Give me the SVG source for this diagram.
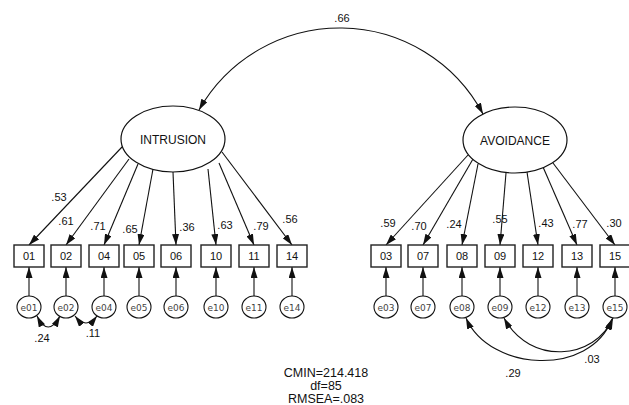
<svg xmlns="http://www.w3.org/2000/svg" width="629" height="405" viewBox="0 0 629 405">
<style>
.bx{fill:#fff;stroke:#222;stroke-width:1.4}
.el{fill:#fff;stroke:#111;stroke-width:1.2}
.er{fill:#fff;stroke:#111;stroke-width:1.1}
.ln{fill:none;stroke:#111;stroke-width:1.1}
.t{font-family:"Liberation Sans",Arial,sans-serif;fill:#111}
.bt{font-size:11px;text-anchor:middle}
.lt{font-size:12px;text-anchor:middle}
.et{font-family:"DejaVu Sans",sans-serif;font-size:9px;fill:#444;text-anchor:middle}
.nm{font-size:11px;text-anchor:middle}
.st{font-size:12.5px;text-anchor:middle}
</style>
<defs>
<marker id="ah" markerUnits="userSpaceOnUse" markerWidth="11" markerHeight="7" refX="11" refY="3.5" orient="auto-start-reverse">
<path d="M0,0 L11,3.5 L0,7 z" fill="#111"/>
</marker>
</defs>
<rect width="629" height="405" fill="#fff"/>

<g id="connectors">
<path class="ln" d="M199,110 A162,162 0 0 1 483,114" marker-start="url(#ah)" marker-end="url(#ah)"/>
<g marker-end="url(#ah)">
<line class="ln" x1="122" y1="147" x2="29" y2="245"/>
<line class="ln" x1="129" y1="159" x2="66" y2="245"/>
<line class="ln" x1="138" y1="164" x2="104" y2="245"/>
<line class="ln" x1="153" y1="169" x2="139" y2="245"/>
<line class="ln" x1="173" y1="172" x2="176" y2="245"/>
<line class="ln" x1="208" y1="169" x2="216" y2="245"/>
<line class="ln" x1="219" y1="163" x2="254" y2="245"/>
<line class="ln" x1="222" y1="152" x2="292" y2="245"/>
<line class="ln" x1="468" y1="155" x2="386" y2="245"/>
<line class="ln" x1="473" y1="159" x2="423" y2="245"/>
<line class="ln" x1="478" y1="164" x2="462" y2="245"/>
<line class="ln" x1="506" y1="173" x2="500" y2="245"/>
<line class="ln" x1="527" y1="172" x2="538" y2="245"/>
<line class="ln" x1="543" y1="167" x2="577" y2="245"/>
<line class="ln" x1="553" y1="163" x2="615" y2="245"/>
<line class="ln" x1="29" y1="296" x2="29" y2="267"/>
<line class="ln" x1="66" y1="296" x2="66" y2="267"/>
<line class="ln" x1="104" y1="296" x2="104" y2="267"/>
<line class="ln" x1="139" y1="296" x2="139" y2="267"/>
<line class="ln" x1="176" y1="296" x2="176" y2="267"/>
<line class="ln" x1="216" y1="296" x2="216" y2="267"/>
<line class="ln" x1="254" y1="296" x2="254" y2="267"/>
<line class="ln" x1="292" y1="296" x2="292" y2="267"/>
<line class="ln" x1="386" y1="296" x2="386" y2="267"/>
<line class="ln" x1="423" y1="296" x2="423" y2="267"/>
<line class="ln" x1="462" y1="296" x2="462" y2="267"/>
<line class="ln" x1="500" y1="296" x2="500" y2="267"/>
<line class="ln" x1="538" y1="296" x2="538" y2="267"/>
<line class="ln" x1="577" y1="296" x2="577" y2="267"/>
<line class="ln" x1="615" y1="296" x2="615" y2="267"/>
</g>
<g marker-start="url(#ah)" marker-end="url(#ah)">
<path class="ln" d="M37,316 Q48,338 60,316"/>
<path class="ln" d="M75,316 Q86,330 97,316"/>
<path class="ln" d="M466,318 C490,372 590,377 612,319"/>
<path class="ln" d="M504,318 C530,366 595,360 613,318"/>
</g>
</g>

<g id="INTRUSION"><ellipse class="el" cx="173" cy="139" rx="52" ry="33"/><text class="t lt" x="173" y="143.5">INTRUSION</text></g>
<g id="AVOIDANCE"><ellipse class="el" cx="515" cy="140" rx="52" ry="33"/><text class="t lt" x="515" y="144.5">AVOIDANCE</text></g>

<g id="v01"><rect class="bx" x="14" y="245" width="30" height="22"/><text class="t bt" x="29" y="260">01</text></g>
<g id="v02"><rect class="bx" x="51" y="245" width="30" height="22"/><text class="t bt" x="66" y="260">02</text></g>
<g id="v04"><rect class="bx" x="89" y="245" width="30" height="22"/><text class="t bt" x="104" y="260">04</text></g>
<g id="v05"><rect class="bx" x="124" y="245" width="30" height="22"/><text class="t bt" x="139" y="260">05</text></g>
<g id="v06"><rect class="bx" x="161" y="245" width="30" height="22"/><text class="t bt" x="176" y="260">06</text></g>
<g id="v10"><rect class="bx" x="201" y="245" width="30" height="22"/><text class="t bt" x="216" y="260">10</text></g>
<g id="v11"><rect class="bx" x="239" y="245" width="30" height="22"/><text class="t bt" x="254" y="260">11</text></g>
<g id="v14"><rect class="bx" x="277" y="245" width="30" height="22"/><text class="t bt" x="292" y="260">14</text></g>
<g id="v03"><rect class="bx" x="371" y="245" width="30" height="22"/><text class="t bt" x="386" y="260">03</text></g>
<g id="v07"><rect class="bx" x="408" y="245" width="30" height="22"/><text class="t bt" x="423" y="260">07</text></g>
<g id="v08"><rect class="bx" x="447" y="245" width="30" height="22"/><text class="t bt" x="462" y="260">08</text></g>
<g id="v09"><rect class="bx" x="485" y="245" width="30" height="22"/><text class="t bt" x="500" y="260">09</text></g>
<g id="v12"><rect class="bx" x="523" y="245" width="30" height="22"/><text class="t bt" x="538" y="260">12</text></g>
<g id="v13"><rect class="bx" x="562" y="245" width="30" height="22"/><text class="t bt" x="577" y="260">13</text></g>
<g id="v15"><rect class="bx" x="600" y="245" width="30" height="22"/><text class="t bt" x="615" y="260">15</text></g>

<g id="e01"><ellipse class="er" cx="29" cy="307" rx="12" ry="11"/><text class="et" x="29" y="310.5">e01</text></g>
<g id="e02"><ellipse class="er" cx="66" cy="307" rx="12" ry="11"/><text class="et" x="66" y="310.5">e02</text></g>
<g id="e04"><ellipse class="er" cx="104" cy="307" rx="12" ry="11"/><text class="et" x="104" y="310.5">e04</text></g>
<g id="e05"><ellipse class="er" cx="139" cy="307" rx="12" ry="11"/><text class="et" x="139" y="310.5">e05</text></g>
<g id="e06"><ellipse class="er" cx="176" cy="307" rx="12" ry="11"/><text class="et" x="176" y="310.5">e06</text></g>
<g id="e10"><ellipse class="er" cx="216" cy="307" rx="12" ry="11"/><text class="et" x="216" y="310.5">e10</text></g>
<g id="e11"><ellipse class="er" cx="254" cy="307" rx="12" ry="11"/><text class="et" x="254" y="310.5">e11</text></g>
<g id="e14"><ellipse class="er" cx="292" cy="307" rx="12" ry="11"/><text class="et" x="292" y="310.5">e14</text></g>
<g id="e03"><ellipse class="er" cx="386" cy="307" rx="12" ry="11"/><text class="et" x="386" y="310.5">e03</text></g>
<g id="e07"><ellipse class="er" cx="423" cy="307" rx="12" ry="11"/><text class="et" x="423" y="310.5">e07</text></g>
<g id="e08"><ellipse class="er" cx="462" cy="307" rx="12" ry="11"/><text class="et" x="462" y="310.5">e08</text></g>
<g id="e09"><ellipse class="er" cx="500" cy="307" rx="12" ry="11"/><text class="et" x="500" y="310.5">e09</text></g>
<g id="e12"><ellipse class="er" cx="538" cy="307" rx="12" ry="11"/><text class="et" x="538" y="310.5">e12</text></g>
<g id="e13"><ellipse class="er" cx="577" cy="307" rx="12" ry="11"/><text class="et" x="577" y="310.5">e13</text></g>
<g id="e15"><ellipse class="er" cx="615" cy="307" rx="12" ry="11"/><text class="et" x="615" y="310.5">e15</text></g>

<g id="labels">
<text class="t nm" x="342" y="22">.66</text>
<text class="t nm" x="59" y="201">.53</text>
<text class="t nm" x="66" y="225">.61</text>
<text class="t nm" x="98" y="230">.71</text>
<text class="t nm" x="130" y="233">.65</text>
<text class="t nm" x="187" y="231">.36</text>
<text class="t nm" x="225" y="229">.63</text>
<text class="t nm" x="261" y="230">.79</text>
<text class="t nm" x="290" y="223">.56</text>
<text class="t nm" x="388" y="227">.59</text>
<text class="t nm" x="419" y="230">.70</text>
<text class="t nm" x="454" y="228">.24</text>
<text class="t nm" x="500" y="223">.55</text>
<text class="t nm" x="546" y="227">.43</text>
<text class="t nm" x="580" y="228">.77</text>
<text class="t nm" x="614" y="227">.30</text>
<text class="t nm" x="42" y="342">.24</text>
<text class="t nm" x="93" y="337">.11</text>
<text class="t nm" x="592" y="363">.03</text>
<text class="t nm" x="513" y="377">.29</text>
</g>

<g id="fit">
<text class="t st" x="326" y="377">CMIN=214.418</text>
<text class="t st" x="326" y="390">df=85</text>
<text class="t st" x="326" y="403">RMSEA=.083</text>
</g>
</svg>
